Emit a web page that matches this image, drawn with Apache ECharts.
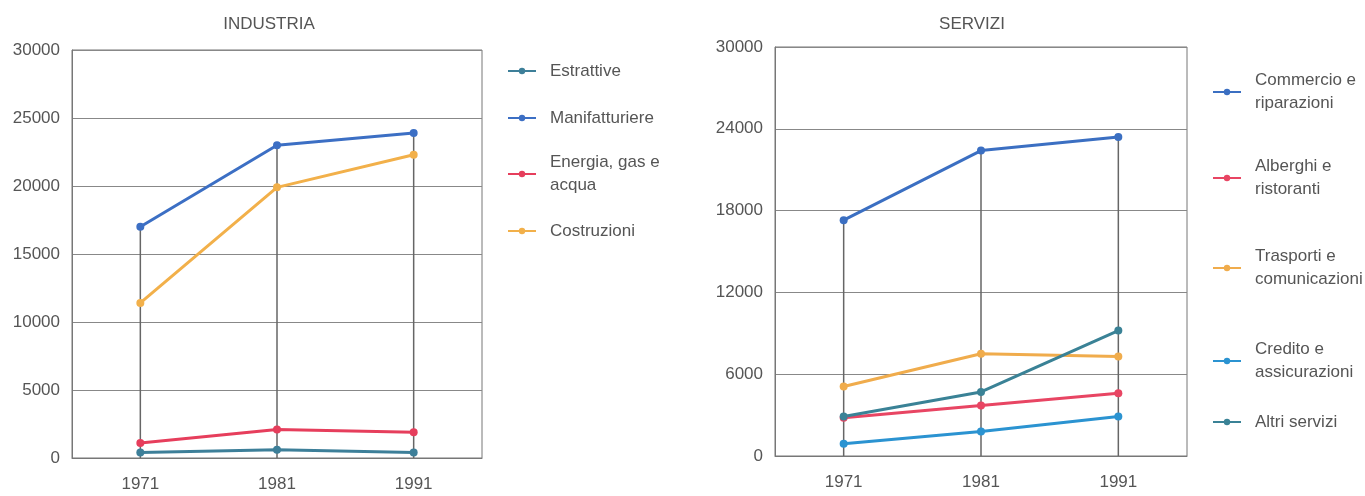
<!DOCTYPE html>
<html><head><meta charset="utf-8">
<script src="https://cdn.jsdelivr.net/npm/echarts@6/dist/echarts.min.js"></script>
<style>html,body{margin:0;padding:0;background:#fff}#c{width:1365px;height:496px}</style>
</head><body><div id="c"></div>
<script>
// ---- data ----
const years = ['1971', '1981', '1991'];

const indNames = ['Estrattive', 'Manifatturiere', 'Energia, gas e acqua', 'Costruzioni'];
const indLabels = ['Estrattive', 'Manifatturiere', 'Energia, gas e\nacqua', 'Costruzioni'];
const estrattive = [400, 600, 400];
const manifatturiere = [17000, 23000, 23900];
const energia = [1100, 2100, 1900];
const costruzioni = [11400, 19900, 22300];
const indTicks = [0, 5000, 10000, 15000, 20000, 25000, 30000];

const serNames = ['Commercio e riparazioni', 'Alberghi e ristoranti', 'Trasporti e comunicazioni', 'Credito e assicurazioni', 'Altri servizi'];
const serLabels = ['Commercio e\nriparazioni', 'Alberghi e\nristoranti', 'Trasporti e\ncomunicazioni', 'Credito e\nassicurazioni', 'Altri servizi'];
const commercio = [17300, 22400, 23400];
const alberghi = [2800, 3700, 4600];
const trasporti = [5100, 7500, 7300];
const credito = [900, 1800, 2900];
const altri = [2900, 4700, 9200];
const serTicks = [0, 6000, 12000, 18000, 24000, 30000];

// ---- styling ----
const FONT = "'Liberation Sans', Arial, sans-serif";
const TXT = '#555';
const FS = 17;
const indColors = ['#3d7f99', '#3c6fc4', '#e63e5c', '#f2b04a'];
const serColors = ['#3b6fc2', '#e84563', '#f0ac4c', '#2b93d1', '#3a8296'];

const indData = [estrattive, manifatturiere, energia, costruzioni];
const serData = [commercio, alberghi, trasporti, credito, altri];

function colMax(arrs) { return years.map((_, i) => Math.max(...arrs.map(a => a[i]))); }

const legendText = { fontFamily: FONT, fontSize: FS, color: TXT, lineHeight: 23, padding: [0, 0, 0, 9] };

function lineSeries(names, datas, colors, idx) {
  return names.map((n, i) => ({
    type: 'line', name: n, data: datas[i], xAxisIndex: idx, yAxisIndex: idx,
    symbol: 'circle', symbolSize: 8, z: 3,
    lineStyle: { width: 3, color: colors[i] }, itemStyle: { color: colors[i] }
  }));
}
function dropSeries(datas, idx) {
  return { type: 'bar', data: colMax(datas), xAxisIndex: idx, yAxisIndex: idx, barWidth: 1.5,
    itemStyle: { color: '#666' }, silent: true, z: 1 };
}
function legends(names, labels, colors, left, centers) {
  return names.map((n, i) => {
    const lines = labels[i].split('\n').length;
    return {
      data: [n], left: left, top: centers[i] - lines * 23 / 2, padding: 0,
      orient: 'vertical', itemWidth: 28, itemHeight: 8,
      formatter: () => labels[i], textStyle: legendText, selectedMode: false
    };
  });
}
function xAxis(idx) {
  return { type: 'category', data: years, gridIndex: idx,
    axisLine: { lineStyle: { color: '#777', width: 1 } }, axisTick: { show: false },
    axisLabel: { fontFamily: FONT, fontSize: FS, color: TXT, margin: 18 } };
}
function yAxis(idx, ticks) {
  return { type: 'value', gridIndex: idx, min: ticks[0], max: ticks[ticks.length - 1], interval: ticks[1] - ticks[0],
    axisLine: { show: true, lineStyle: { color: '#777', width: 1 } }, axisTick: { show: false },
    splitLine: { lineStyle: { color: '#888', width: 1 } },
    axisLabel: { fontFamily: FONT, fontSize: FS, color: TXT, margin: 12, formatter: v => String(v) } };
}

const chart = echarts.init(document.getElementById('c'), null, { renderer: 'canvas' });
chart.setOption({
  animation: false,
  backgroundColor: '#fff',
  color: indColors.concat(serColors),
  title: [
    { text: 'INDUSTRIA', left: 269, top: 16, textAlign: 'center', padding: 0,
      textStyle: { fontFamily: FONT, fontSize: FS, color: TXT, fontWeight: 'normal' } },
    { text: 'SERVIZI', left: 972, top: 16, textAlign: 'center', padding: 0,
      textStyle: { fontFamily: FONT, fontSize: FS, color: TXT, fontWeight: 'normal' } }
  ],
  grid: [
    { left: 72, top: 50, width: 410, height: 408, show: true, borderColor: '#777', borderWidth: 1 },
    { left: 775, top: 47, width: 412, height: 409, show: true, borderColor: '#777', borderWidth: 1 }
  ],
  xAxis: [xAxis(0), xAxis(1)],
  yAxis: [yAxis(0, indTicks), yAxis(1, serTicks)],
  legend: legends(indNames, indLabels, indColors, 507, [71, 118, 174, 231])
    .concat(legends(serNames, serLabels, serColors, 1212, [92, 178, 268, 361, 422])),
  series: [dropSeries(indData, 0), dropSeries(serData, 1)]
    .concat(lineSeries(indNames, indData, indColors, 0))
    .concat(lineSeries(serNames, serData, serColors, 1))
});
</script>
</body></html>
